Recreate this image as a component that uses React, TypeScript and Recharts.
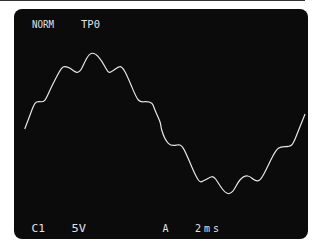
import React from 'react';
import { LineChart, Line, XAxis, YAxis } from 'recharts';

// sample times (ms, 2ms/div) and probe voltage (V, 5V/div)
const times = [
    0.73, 1.09, 1.43, 1.77, 2.11, 2.45, 2.9, 3.24, 3.47, 3.81, 4.27, 4.61, 4.95, 5.31, 5.73, 6.19,
    6.48, 6.87, 7.21, 7.55, 8.01, 8.46, 8.91, 9.37, 9.59, 9.93, 10.05, 10.5, 11.07, 11.52, 12.09,
    12.54, 12.77, 13.06, 13.45, 13.74, 14.15, 14.56, 14.97, 15.37, 15.9, 16.28, 16.62, 16.96, 17.53,
    17.98, 18.44, 18.89, 19.23, 19.8,
];
const volts = [
    -0.87, 1.57, 3.6, 3.88, 4.17, 5.91, 8.23, 9.69, 9.97, 9.69, 8.99, 9.69, 11.43, 12.3, 11.7, 9.97,
    8.99, 9.51, 9.97, 9.1, 6.49, 4.17, 3.88, 3.6, 2.43, 0.4, -1.04, -3.36, -3.65, -4.23, -7.43,
    -9.74, -10.03, -9.65, -9.17, -9.65, -11.22, -12.09, -11.39, -9.74, -9.04, -9.62, -9.86, -8.87, -5.97,
    -4.23, -3.95, -3.65, -1.91, 1.74,
];

const topLabels = ['NORM', 'TP0'];
const bottomLabels = ['C1', '5V', 'A', '2ms'];

const trace = times.map((t, i) => ({ t, v: volts[i] }));

const textStyle = { fontFamily: 'DejaVu Sans Mono', fontSize: 10, fill: '#e2e2e2' };

const App = () => {
    return (
        <div style={{ position: 'absolute', left: 0, top: 0, width: 316, height: 240, background: '#fff', overflow: 'hidden' }}>
            <div style={{ position: 'absolute', left: 0, top: 0, width: 305, height: 1, background: '#333' }} />
            <div
                style={{
                    position: 'absolute', left: 14, top: 9, width: 294, height: 230,
                    background: '#0b0b0b', borderRadius: 8,
                }}
            >
                <LineChart width={294} height={230} data={trace} margin={{ top: 0, right: 0, bottom: 0, left: 0 }}>
                    <XAxis dataKey="t" type="number" domain={[0, 20]} hide />
                    <YAxis type="number" domain={[-20, 20]} hide />
                    <Line
                        type="natural"
                        dataKey="v"
                        stroke="#e6e6e6"
                        strokeWidth={1.2}
                        dot={false}
                        isAnimationActive={false}
                    />
                </LineChart>
            </div>
            <svg width={316} height={240} style={{ position: 'absolute', left: 0, top: 0 }}>
                <text x={32} y={27.5} textLength={22} lengthAdjust="spacingAndGlyphs" style={textStyle}>{topLabels[0]}</text>
                <text x={81} y={27.5} textLength={19} lengthAdjust="spacingAndGlyphs" style={textStyle}>{topLabels[1]}</text>
                <text x={31.5} y={231.7} textLength={13.5} lengthAdjust="spacingAndGlyphs" style={textStyle}>{bottomLabels[0]}</text>
                <text x={71.5} y={231.7} textLength={14.5} lengthAdjust="spacingAndGlyphs" style={textStyle}>{bottomLabels[1]}</text>
                <text x={162.5} y={231.7} style={textStyle}>{bottomLabels[2]}</text>
                <text x={195} y={231.7} textLength={24} lengthAdjust="spacing" style={textStyle}>{bottomLabels[3]}</text>
            </svg>
        </div>
    );
};

export default App;
